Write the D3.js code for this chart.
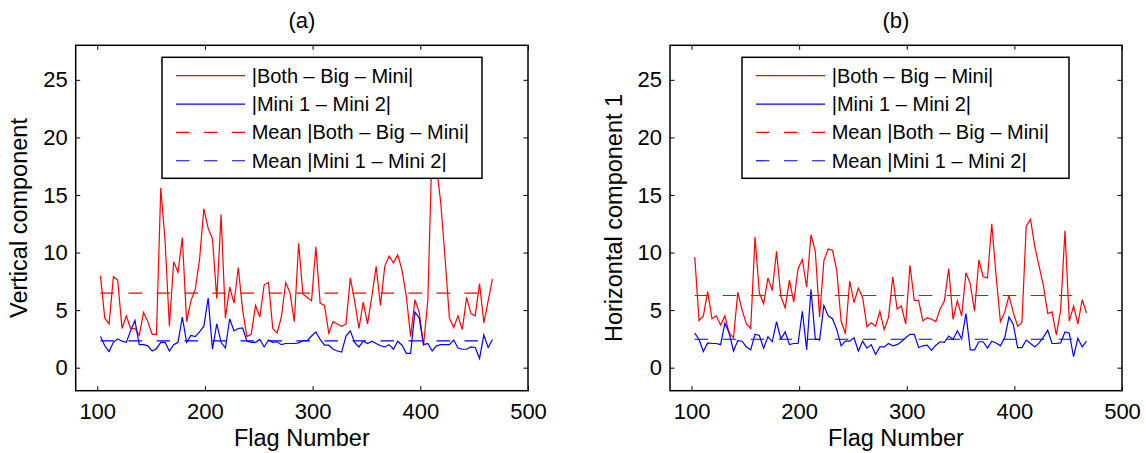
<!DOCTYPE html>
<html>
<head>
    <meta charset="utf-8">
    <title>Flag components</title>
    <style>
        body { margin: 0; background: #fff; }
        text { font-family: "Liberation Sans", Arial, Helvetica, sans-serif; fill: #000; }
    </style>
</head>
<body>
    <svg width="1146" height="453"></svg>
    <script src="https://d3js.org/d3.v7.min.js"></script>
    <script>
    // flag numbers (x) shared by both panels
    var flags = [103,107,111,115,119,123,127,131,135,139,143,147,151,155,159,163,167,171,175,179,
                 183,187,191,195,199,203,207,211,215,219,223,227,231,235,239,243,247,251,255,259,
                 263,267,271,275,279,283,287,291,295,299,303,307,311,315,319,323,327,331,335,339,
                 343,347,351,355,359,363,367,371,375,379,383,387,391,395,399,403,407,411,415,419,
                 423,427,431,435,439,443,447,451,455,459,463,467];

    // (a) vertical component
    var vertBoth = [8.0,4.3,3.8,7.9,7.6,3.4,4.5,3.4,3.4,2.8, 4.8,4.0,2.9,2.9,15.6,11.0,3.6,9.2,8.3,11.3,
                    4.0,5.8,6.8,9.4,13.8,12.1,11.2,6.0,13.3,4.3, 7.0,5.6,8.7,5.0,2.7,2.9,5.4,4.4,7.2,7.4,
                    3.4,3.0,4.4,7.4,6.5,4.0,10.8,6.4,6.1,5.8, 10.5,5.6,5.4,3.0,4.0,3.8,3.6,3.8,7.8,5.8,
                    3.4,5.7,3.8,6.2,8.8,5.4,8.8,9.7,9.1,9.8, 8.5,6.2,2.7,5.9,4.8,1.9,5.9,19.5,17.5,14.3,
                    9.5,4.3,3.5,4.5,3.3,6.1,4.7,4.5,7.3,3.9, 5.8,7.7];
    var vertMini = [2.7,1.9,1.4,2.2,2.5,2.3,2.2,3.2,4.1,2.0, 2.0,1.9,1.45,1.65,2.2,2.2,1.45,2.0,2.2,4.4,
                    2.2,2.8,2.7,3.1,3.6,6.05,1.6,3.8,2.2,1.7, 4.25,3.2,3.4,3.45,2.3,2.2,2.2,2.45,1.8,2.4,
                    2.2,2.25,2.0,2.1,2.1,2.1,2.15,2.35,2.35,2.75, 3.1,2.45,1.95,1.95,1.6,1.45,1.35,2.75,3.2,2.2,
                    1.8,2.3,2.1,2.3,2.1,1.9,1.8,2.0,1.6,2.3, 1.95,1.25,1.25,4.85,4.3,2.0,2.1,1.45,1.9,2.0,
                    2.0,2.0,2.4,1.7,1.6,1.6,1.8,1.75,0.8,2.85, 1.75,2.45];
    var vertMeans = [6.47, 2.33];

    // (b) horizontal component 1
    var horzBoth = [9.6,4.1,4.5,6.6,4.25,4.5,3.7,4.5,3.0,2.6, 6.55,5.0,3.8,3.4,11.35,6.5,5.55,7.8,6.7,10.1,
                    6.2,5.2,7.6,5.7,8.6,9.4,7.0,11.55,10.1,4.4, 9.3,10.3,10.2,8.4,4.05,2.95,7.55,5.65,6.9,6.1,
                    3.55,3.9,3.6,4.9,3.3,4.35,7.9,5.1,5.35,3.8, 8.9,5.85,5.85,4.05,4.35,4.2,4.0,5.1,5.8,8.6,
                    4.2,5.8,4.5,8.25,7.3,4.9,9.35,7.9,7.8,12.5, 8.0,4.0,4.8,6.25,4.8,3.6,3.9,12.3,12.9,10.5,
                    8.8,7.1,4.7,4.85,2.85,5.0,11.9,4.05,5.35,3.8, 5.9,4.75];
    var horzMini = [3.0,2.45,1.4,2.15,2.1,2.1,2.0,3.85,3.0,1.45, 2.35,2.3,1.8,1.55,2.9,2.8,1.7,2.7,2.25,4.0,
                    2.5,3.1,2.0,2.1,2.1,4.9,1.55,6.8,2.5,2.4, 5.4,4.5,4.25,3.3,1.9,2.3,2.3,2.6,1.45,2.3,
                    1.7,2.0,1.15,1.8,1.8,2.1,1.9,2.0,2.25,2.6, 2.9,2.9,1.75,1.9,1.95,1.5,1.95,2.25,2.2,2.75,
                    2.45,3.2,2.5,4.7,1.55,1.55,2.25,2.25,1.7,2.3, 2.15,1.9,2.6,4.4,3.75,1.75,1.75,2.4,2.1,1.8,
                    2.15,2.65,3.25,2.1,2.1,2.15,3.1,3.0,0.95,2.55, 1.8,2.3];
    var horzMeans = [6.27, 2.47];

    var xTicks = [100, 200, 300, 400, 500];
    var yTicks = [0, 5, 10, 15, 20, 25];
    var legendLabels = ["|Both \u2013 Big \u2013 Mini|", "|Mini 1 \u2013 Mini 2|",
                        "Mean |Both \u2013 Big \u2013 Mini|", "Mean |Mini 1 \u2013 Mini 2|"];
    var legendColors = ["#ff0000", "#0000ff", "#ff0000", "#0000ff"];
    var legendDashed = [false, false, true, true];

    var svg = d3.select("svg");
    var fs = 22, legFs = 20, labFs = 23.5;

    var panels = [
        {title: "(a)", ylabel: "Vertical component", both: vertBoth, mini: vertMini, means: vertMeans,
         left: 75.7, right: 528, legLeft: 162, legRight: 482},
        {title: "(b)", ylabel: "Horizontal component 1", both: horzBoth, mini: horzMini, means: horzMeans,
         left: 670, right: 1122, legLeft: 742, legRight: 1069}
    ];
    var axTop = 45.3, axBottom = 390.7;

    panels.forEach(function(p) {
      var x = d3.scaleLinear().domain([80, 500]).range([p.left, p.right]);
      var y = d3.scaleLinear().domain([-2, 28]).range([axBottom, axTop]);
      var g = svg.append("g");

      // ticks, inward on all four sides
      var tk = 4.5;
      g.append("g").attr("transform", "translate(0," + axBottom + ")")
        .call(d3.axisBottom(x).tickValues(xTicks).tickSize(-tk).tickPadding(13));
      g.append("g").attr("transform", "translate(0," + axTop + ")")
        .call(d3.axisTop(x).tickValues(xTicks).tickSize(-tk).tickFormat(""));
      g.append("g").attr("transform", "translate(" + p.left + ",0)")
        .call(d3.axisLeft(y).tickValues(yTicks).tickSize(-tk).tickPadding(8));
      g.append("g").attr("transform", "translate(" + p.right + ",0)")
        .call(d3.axisRight(y).tickValues(yTicks).tickSize(-tk).tickFormat(""));
      g.selectAll(".domain").remove();
      g.selectAll(".tick line").attr("stroke", "#000");
      g.selectAll(".tick text").style("font-size", fs + "px")
        .style("font-family", "'Liberation Sans', Arial, sans-serif").attr("fill", "#000");

      var line = d3.line()
        .x(function(d, i) { return x(flags[i]); })
        .y(function(d) { return y(d); });

      g.append("path").datum(p.both).attr("d", line)
        .attr("fill", "none").attr("stroke", "#ff0000").attr("stroke-width", 1.2);
      g.append("path").datum(p.mini).attr("d", line)
        .attr("fill", "none").attr("stroke", "#0000ff").attr("stroke-width", 1.2);

      // mean lines
      var meanColors = ["#ff0000", "#0000ff"];
      p.means.forEach(function(m, k) {
        g.append("line")
          .attr("x1", x(flags[0])).attr("x2", x(flags[flags.length - 1]))
          .attr("y1", y(m)).attr("y2", y(m))
          .attr("stroke", meanColors[k]).attr("stroke-width", 1.2)
          .attr("stroke-dasharray", "13.5,14.5");
      });

      // axes box
      g.append("rect")
        .attr("x", p.left).attr("y", axTop)
        .attr("width", p.right - p.left).attr("height", axBottom - axTop)
        .attr("fill", "none").attr("stroke", "#000").attr("stroke-width", 1.5);

      // legend
      var legTop = 57.3, legBottom = 178.3;
      var leg = g.append("g");
      leg.append("rect")
        .attr("x", p.legLeft).attr("y", legTop)
        .attr("width", p.legRight - p.legLeft).attr("height", legBottom - legTop)
        .attr("fill", "#fff").attr("stroke", "#000").attr("stroke-width", 1.5);
      legendLabels.forEach(function(lbl, k) {
        var ry = legTop + 18.4 + k * 28.35;
        leg.append("line")
          .attr("x1", p.legLeft + 14).attr("x2", p.legLeft + 83)
          .attr("y1", ry).attr("y2", ry)
          .attr("stroke", legendColors[k]).attr("stroke-width", 1.2)
          .attr("stroke-dasharray", legendDashed[k] ? "13.5,14.5" : null);
        leg.append("text")
          .attr("x", p.legLeft + 89.7).attr("y", ry).attr("dy", "0.35em")
          .style("font-size", legFs + "px").text(lbl);
      });

      // titles and labels
      var cx = (p.left + p.right) / 2;
      g.append("text").attr("x", cx).attr("y", 28).attr("text-anchor", "middle")
        .style("font-size", fs + "px").text(p.title);
      g.append("text").attr("x", cx).attr("y", 446).attr("text-anchor", "middle")
        .style("font-size", labFs + "px").text("Flag Number");
      g.append("text")
        .attr("transform", "translate(" + (p.left - 48.5) + "," + ((axTop + axBottom) / 2) + ") rotate(-90)")
        .attr("text-anchor", "middle")
        .style("font-size", labFs + "px").text(p.ylabel);
    });
    </script>
</body>
</html>
